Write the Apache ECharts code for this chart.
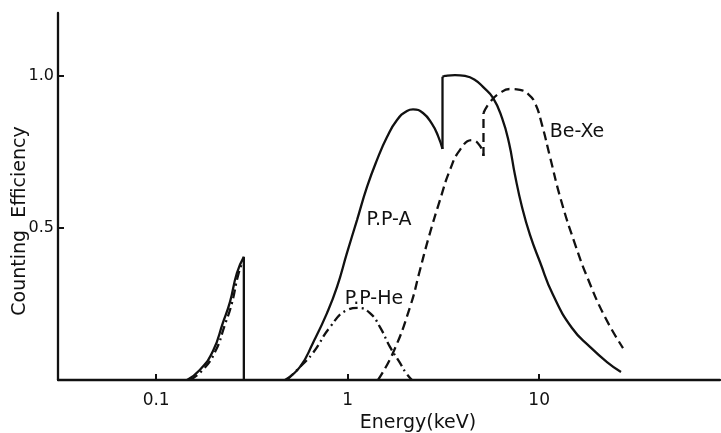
<!DOCTYPE html>
<html>
<head>
<meta charset="utf-8">
<script src="https://cdn.jsdelivr.net/npm/echarts@6/dist/echarts.min.js"></script>
<style>
html,body{margin:0;padding:0;background:#fff;}
#chart{width:721px;height:433px;}
</style>
</head>
<body>
<div id="chart"></div>
<script>
// ---- data (energy keV, counting efficiency) ----
const xTickValues = [0.1, 1, 10];
const yTickValues = [0.5, 1.0];

const ppA_low = [[0.145,0],[0.169,0.033],[0.198,0.095],[0.223,0.188],[0.243,0.257],[0.264,0.352],[0.287,0.405]];
const ppA_lowEdge = [[0.287,0.405],[0.287,0]];
const ppHe_low = [[0.150,0],[0.175,0.033],[0.204,0.095],[0.228,0.180],[0.248,0.250],[0.268,0.345],[0.287,0.400]];

const ppA_rise = [[0.471,0],[0.564,0.043],[0.659,0.122],[0.780,0.220],[0.880,0.306],[0.992,0.418],[1.119,0.526],[1.262,0.635],[1.423,0.724],[1.605,0.799],[1.810,0.855],[2.041,0.885],[2.194,0.890],[2.474,0.878],[2.757,0.842],[2.963,0.803],[3.128,0.760]];
const ppA_fall = [[3.128,0.997],[3.223,1.000],[3.635,1.003],[4.101,1.000],[4.624,0.987],[5.091,0.964],[5.742,0.928],[6.397,0.862],[6.957,0.780],[7.478,0.674],[8.136,0.569],[8.956,0.477],[10.10,0.388],[11.81,0.280],[14.84,0.171],[18.42,0.109],[22.61,0.059],[26.75,0.026]];

const beXe_rise = [[1.440,0],[1.724,0.089],[2.117,0.240],[2.386,0.362],[2.628,0.461],[3.035,0.592],[3.422,0.691],[3.861,0.757],[4.461,0.789],[4.910,0.770],[5.12,0.737]];
const beXe_fall = [[5.12,0.878],[5.537,0.914],[6.245,0.944],[7.042,0.957],[7.943,0.954],[8.743,0.941],[9.512,0.911],[10.35,0.839],[11.39,0.734],[13.00,0.592],[15.39,0.447],[17.99,0.332],[22.07,0.207],[27.41,0.105]];

const ppHe_main = [[0.482,0],[0.564,0.043],[0.659,0.089],[0.809,0.174],[0.992,0.230],[1.132,0.237],[1.308,0.220],[1.475,0.174],[1.663,0.109],[1.876,0.056],[2.017,0.023],[2.168,0]];

// ---- chart ----
const FONT = 'DejaVu Sans';
const solid = {color:'#111', width:2.3, type:'solid'};
const dashed = {color:'#111', width:2.3, type:[9,5]};
const dashDot = {color:'#111', width:2.3, type:[9,4,2,4]};

function seg(data, style, smooth){
  return {type:'line', data:data, showSymbol:false, symbol:'none',
          smooth:smooth ? 0.5 : false,
          lineStyle:style, silent:true, animation:false, z:3};
}
const edge = (a, b) => [a[a.length-1], b[0]];

const chart = echarts.init(document.getElementById('chart'), null, {renderer:'canvas'});
chart.setOption({
  animation:false,
  backgroundColor:'#fff',
  grid:{left:58, right:1, top:13, bottom:53, containLabel:false},
  xAxis:{
    type:'log', logBase:10, min:0.03072, max:87.97,
    axisLine:{show:true, lineStyle:{color:'#111', width:2.3}},
    axisTick:{show:true, inside:true, length:6, customValues:xTickValues, lineStyle:{color:'#111', width:2}},
    axisLabel:{show:true, customValues:xTickValues, margin:12, color:'#111', fontFamily:FONT, fontSize:17,
      formatter:v => v < 1 ? v.toFixed(1) : String(Math.round(v))},
    splitLine:{show:false}, minorTick:{show:false}
  },
  yAxis:{
    type:'value', min:0, max:1.207,
    axisLine:{show:true, lineStyle:{color:'#111', width:2.3}},
    axisTick:{show:true, inside:true, length:6, customValues:yTickValues, lineStyle:{color:'#111', width:2}},
    axisLabel:{show:true, customValues:yTickValues, margin:4, color:'#111', fontFamily:FONT, fontSize:16,
      formatter:v => v.toFixed(1)},
    splitLine:{show:false}
  },
  graphic:[
    {type:'text', x:20, y:221, rotation:Math.PI/2,
     style:{text:'Counting  Efficiency', fill:'#111', font:'19px "DejaVu Sans"', textAlign:'center', textVerticalAlign:'middle'}},
    {type:'text', x:418, y:423,
     style:{text:'Energy(keV)', fill:'#111', font:'19px "DejaVu Sans"', textAlign:'center', textVerticalAlign:'middle'}},
    {type:'text', x:389, y:220,
     style:{text:'P.P-A', fill:'#111', font:'19px "DejaVu Sans"', textAlign:'center', textVerticalAlign:'middle'}},
    {type:'text', x:374, y:299,
     style:{text:'P.P-He', fill:'#111', font:'19px "DejaVu Sans"', textAlign:'center', textVerticalAlign:'middle'}},
    {type:'text', x:577, y:132,
     style:{text:'Be-Xe', fill:'#111', font:'19px "DejaVu Sans"', textAlign:'center', textVerticalAlign:'middle'}}
  ],
  series:[
    seg(ppA_low, solid, true),
    seg(ppA_lowEdge, solid, false),
    seg(ppHe_low, dashDot, true),
    seg(ppA_rise, solid, true),
    seg(edge(ppA_rise, ppA_fall), solid, false),
    seg(ppA_fall, solid, true),
    seg(beXe_rise, dashed, true),
    seg(edge(beXe_rise, beXe_fall), dashed, false),
    seg(beXe_fall, dashed, true),
    seg(ppHe_main, dashDot, true)
  ]
});
</script>
</body>
</html>
